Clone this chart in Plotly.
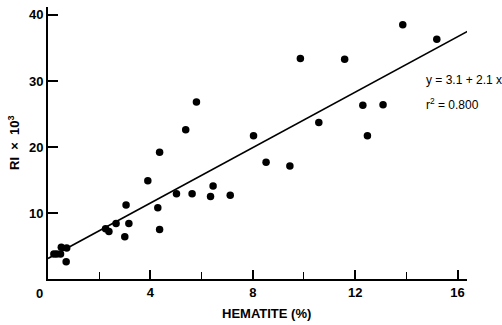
import plotly.graph_objects as go

hematite = [0.23, 0.34, 0.52, 0.49, 0.73, 0.71,
            2.25, 2.38, 2.66, 3.16, 3.0, 3.05, 3.9, 4.29, 4.36, 5.02, 5.63, 6.45, 6.35, 7.12,
            5.8, 5.38, 4.36,
            13.86, 15.19, 9.86, 11.59, 8.03, 10.58, 12.3, 13.09, 12.48, 8.52, 9.45]
ri = [3.8, 3.8, 4.8, 3.8, 4.7, 2.6,
      7.6, 7.2, 8.4, 8.4, 6.4, 11.2, 14.9, 10.8, 7.5, 12.9, 12.9, 14.1, 12.5, 12.7,
      26.8, 22.6, 19.2,
      38.5, 36.3, 33.4, 33.3, 21.7, 23.7, 26.3, 26.4, 21.7, 17.7, 17.1]

fit_intercept = 3.1
fit_slope = 2.1
fit_x = [0, 16.6]
fit_y = [fit_intercept + fit_slope * v for v in fit_x]

x_ticks = [4, 8, 12, 16]
y_ticks = [10, 20, 30, 40]

FONT = "Liberation Sans"

fig = go.Figure()
fig.add_trace(go.Scatter(x=fit_x, y=fit_y, mode="lines",
                         line=dict(color="black", width=1.6), hoverinfo="skip"))
fig.add_trace(go.Scatter(x=hematite, y=ri, mode="markers",
                         marker=dict(color="black", size=7.5, line=dict(width=0))))

fig.update_layout(
    width=502, height=325,
    margin=dict(l=48, r=35, t=7, b=46),
    paper_bgcolor="white", plot_bgcolor="white",
    showlegend=False,
    font=dict(family=FONT, color="black", size=12),
    xaxis=dict(range=[0, 16.37], showline=True, linecolor="black", linewidth=2,
               showgrid=False, zeroline=False, ticks="inside", ticklen=9, tickwidth=1.5,
               tickcolor="black", tickvals=x_ticks, ticktext=[str(v) for v in x_ticks],
               tickfont=dict(family=FONT, size=13, color="black", weight="bold"),
               minor=dict(tickvals=[2, 6, 10, 14], ticks="inside", ticklen=7,
                          tickwidth=1.2, tickcolor="black", showgrid=False)),
    yaxis=dict(range=[0, 41.2], showline=True, linecolor="black", linewidth=2,
               showgrid=False, zeroline=False, ticks="inside", ticklen=10, tickwidth=1.5,
               tickcolor="black", tickvals=y_ticks, ticktext=[str(v) for v in y_ticks],
               tickfont=dict(family=FONT, size=13, color="black", weight="bold")),
)

fig.add_annotation(text="<b>0</b>", x=0, y=0, xref="x", yref="y", xshift=-9, yshift=-14,
                   showarrow=False, font=dict(size=13, family=FONT))
fig.add_annotation(text="<b>HEMATITE (%)</b>", x=(266 - 48) / 419, y=(279 - 313) / 272,
                   xref="paper", yref="paper", xanchor="center", yanchor="middle",
                   showarrow=False, font=dict(size=13, family=FONT))
fig.add_annotation(text="<b>RI  ×  10<sup>3</sup></b>", x=(14 - 48) / 419, y=0.5,
                   xref="paper", yref="paper", xanchor="center", yanchor="middle",
                   showarrow=False, textangle=-90, font=dict(size=13, family=FONT))
fig.add_annotation(text="y = 3.1 + 2.1 x", x=(424 - 48) / 419, y=(279 - 80) / 272,
                   xref="paper", yref="paper", xanchor="left", yanchor="middle",
                   showarrow=False, font=dict(size=12, family=FONT))
fig.add_annotation(text="r<sup>2</sup> = 0.800", x=(424 - 48) / 419, y=(279 - 104) / 272,
                   xref="paper", yref="paper", xanchor="left", yanchor="middle",
                   showarrow=False, font=dict(size=12, family=FONT))

fig.write_html("out.html")
